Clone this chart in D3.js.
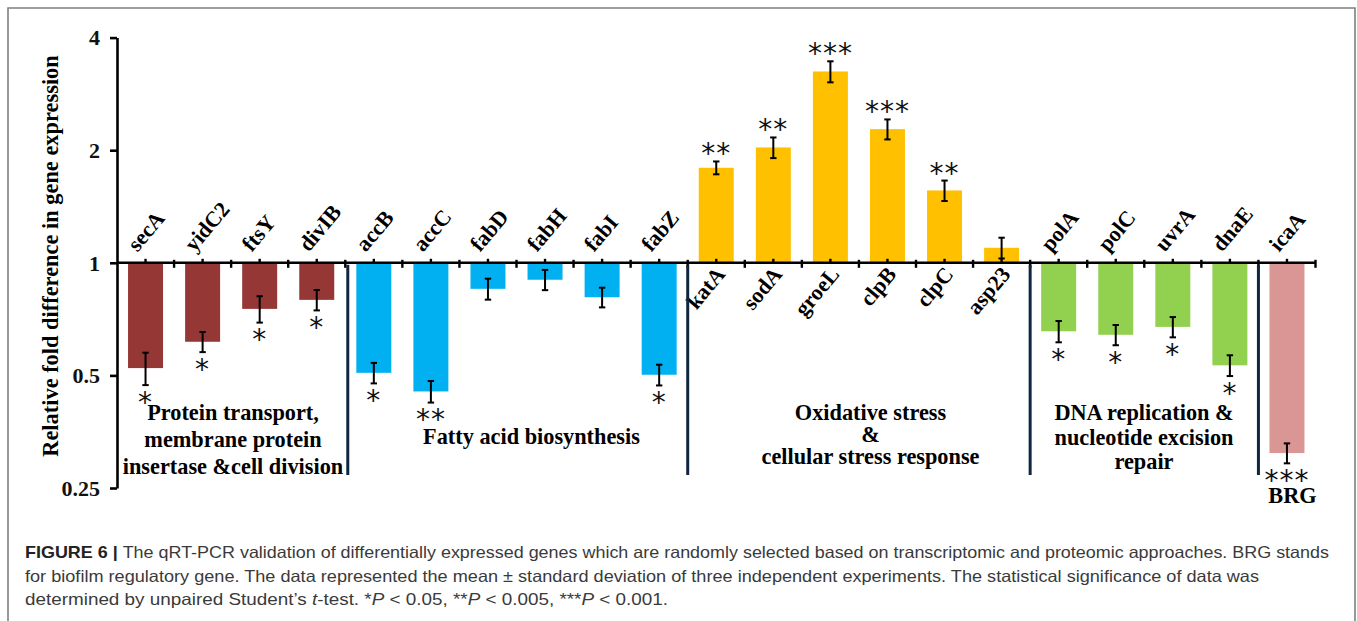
<!DOCTYPE html>
<html><head><meta charset="utf-8">
<script src="https://cdn.jsdelivr.net/npm/d3@7"></script>
<style>body{margin:0;background:#fff}svg{display:block}</style>
</head><body>
<svg id="chart" width="1357" height="621"></svg>
<script>
// ---------------- data ----------------
const genes   = ["secA","yidC2","ftsY","divIB","accB","accC","fabD","fabH","fabI","fabZ",
                 "katA","sodA","groeL","clpB","clpC","asp23","polA","polC","uvrA","dnaE","icaA"];
const foldChange = [0.523,0.615,0.753,0.796,0.508,0.453,0.852,0.901,0.809,0.502,
                    1.795,2.034,3.247,2.277,1.561,1.097,0.656,0.642,0.674,0.532,0.310];
const stdDev  = [0.052,0.038,0.061,0.050,0.032,0.030,0.055,0.056,0.049,0.032,
                 0.071,0.129,0.210,0.140,0.098,0.070,0.043,0.040,0.042,0.034,0.019];
const significance = ["*","*","*","*","*","**","","","","*",
                      "**","**","***","***","**","","*","*","*","*","***"];
const groupOf = [0,0,0,0,1,1,1,1,1,1,2,2,2,2,2,2,3,3,3,3,4];
const groupNames = [
  ["Protein transport,","membrane protein","insertase &cell division"],
  ["Fatty acid biosynthesis"],
  ["Oxidative stress","&","cellular stress response"],
  ["DNA replication &","nucleotide excision","repair"],
  ["BRG"]
];
const groupColors = ["#953735","#00B0F0","#FFC000","#92D050","#D99694"];
const yTickValues = [0.25,0.5,1,2,4];
const yTickLabels = ["0.25","0.5","1","2","4"];
const yTitle = "Relative fold difference in gene expression";
const captionLines = [
  [["b","FIGURE 6 | "],["n","The qRT-PCR validation of differentially expressed genes which are randomly selected based on transcriptomic and proteomic approaches. BRG stands"]],
  [["n","for biofilm regulatory gene. The data represented the mean \u00b1 standard deviation of three independent experiments. The statistical significance of data was"]],
  [["n","determined by unpaired Student\u2019s "],["i","t"],["n","-test. *"],["i","P"],["n"," < 0.05, **"],["i","P"],["n"," < 0.005, ***"],["i","P"],["n"," < 0.001."]]
];

// ---------------- layout ----------------
const svg = d3.select("#chart");
const serif = "'Liberation Serif','Times New Roman',serif";
const X0 = 117, X1 = 1315.5;
const x = d3.scaleBand().domain(genes).range([X0, X1]).padding(0);
const y = d3.scaleLog().base(2).domain([0.25, 4]).range([488, 37.6]);
const barW = x.bandwidth() * 0.613;
const cx = g => x(g) + x.bandwidth() / 2;
const y1 = y(1);

// frame
svg.append("path").attr("d", "M8,625 V8 H1355 V625")
  .attr("fill", "none").attr("stroke", "#7f7f7f").attr("stroke-width", 1.6);

// bars
svg.append("g").selectAll("rect").data(genes).join("rect")
  .attr("x", g => cx(g) - barW / 2)
  .attr("width", barW)
  .attr("y", (g, i) => Math.min(y(foldChange[i]), y1))
  .attr("height", (g, i) => Math.abs(y(foldChange[i]) - y1))
  .attr("fill", (g, i) => groupColors[groupOf[i]]);

// y axis
const yAxis = d3.axisLeft(y).tickValues(yTickValues)
  .tickFormat((d, i) => yTickLabels[i]).tickSizeOuter(0).tickSizeInner(7).tickPadding(10);
const ya = svg.append("g").attr("transform", `translate(${X0},0)`).call(yAxis);
ya.select(".domain").attr("stroke", "#000").attr("stroke-width", 2.6);
ya.selectAll(".tick line").attr("stroke", "#000").attr("stroke-width", 2.6);
ya.selectAll(".tick text").attr("font-family", serif).attr("font-weight", "bold")
  .attr("font-size", 22).attr("fill", "#111").attr("dy", "0.33em");

// x axis line at 1
svg.append("line").attr("x1", X0).attr("x2", X1).attr("y1", y1).attr("y2", y1)
  .attr("stroke", "#000").attr("stroke-width", 2.6);
// center ticks (up) and boundary ticks (down)
svg.append("g").selectAll("line").data(genes).join("line")
  .attr("x1", cx).attr("x2", cx).attr("y1", y1).attr("y2", y1 - 4)
  .attr("stroke", "#000").attr("stroke-width", 2.4);
svg.append("g").selectAll("line").data(genes).join("line")
  .attr("x1", g => x(g) + x.bandwidth()).attr("x2", g => x(g) + x.bandwidth())
  .attr("y1", y1 - 3).attr("y2", y1 + 5)
  .attr("stroke", "#000").attr("stroke-width", 2.4);

// error bars
const eb = svg.append("g").attr("stroke", "#000").attr("stroke-width", 2);
genes.forEach((g, i) => {
  const top = y(foldChange[i] + stdDev[i]), bot = y(foldChange[i] - stdDev[i]), c = cx(g);
  eb.append("line").attr("x1", c).attr("x2", c).attr("y1", top).attr("y2", bot);
  eb.append("line").attr("x1", c - 3.2).attr("x2", c + 3.2).attr("y1", top).attr("y2", top);
  eb.append("line").attr("x1", c - 3.2).attr("x2", c + 3.2).attr("y1", bot).attr("y2", bot);
});

// significance asterisks
const astFont = 28;
svg.append("g").selectAll("text").data(genes).join("text")
  .attr("x", cx)
  .attr("y", (g, i) => {
    const up = foldChange[i] > 1;
    const centre = up ? y(foldChange[i] + stdDev[i]) - 14 : y(foldChange[i] - stdDev[i]) + 10.5;
    return centre + astFont * 0.57;
  })
  .attr("text-anchor", "middle")
  .attr("font-family", "'DejaVu Sans',sans-serif").attr("font-size", astFont)
  .attr("letter-spacing", 1).attr("fill", "#111")
  .text((g, i) => significance[i]);

// gene labels
svg.append("g").selectAll("text").data(genes).join("text")
  .attr("transform", (g, i) => foldChange[i] > 1
      ? `translate(${cx(g) + 10},${y1 + 12}) rotate(-50)`
      : `translate(${cx(g) - 8},${y1 - 10}) rotate(-50)`)
  .attr("text-anchor", (g, i) => foldChange[i] > 1 ? "end" : "start")
  .attr("font-family", serif).attr("font-weight", "bold").attr("font-size", 22)
  .attr("fill", "#000")
  .text(g => g);

// group separators
const sepAfter = [3, 9, 15, 19];
svg.append("g").selectAll("line").data(sepAfter).join("line")
  .attr("x1", i => x(genes[i]) + x.bandwidth() + (i === 3 ? 2.5 : 0))
  .attr("x2", i => x(genes[i]) + x.bandwidth() + (i === 3 ? 2.5 : 0))
  .attr("y1", y1 + 2).attr("y2", 475)
  .attr("stroke", "#102640").attr("stroke-width", 3);

// group labels
const groupLayout = [
  {x: 233, ys: [413.3, 440, 466.7]},
  {x: 531.5, ys: [437]},
  {x: 870.5, ys: [413.3, 435, 456.7]},
  {x: 1144, ys: [413.3, 438, 461.7]},
  {x: 1292.5, ys: [495.5]}
];
groupNames.forEach((lines, gi) => {
  lines.forEach((t, li) => {
    svg.append("text").attr("x", groupLayout[gi].x).attr("y", groupLayout[gi].ys[li] + 7)
      .attr("text-anchor", "middle").attr("font-family", serif).attr("font-weight", "bold")
      .attr("font-size", 22.3).attr("fill", "#000").text(t);
  });
});

// y title
svg.append("text").attr("transform", "translate(58,256) rotate(-90)")
  .attr("text-anchor", "middle").attr("font-family", serif).attr("font-weight", "bold")
  .attr("font-size", 22.4).attr("fill", "#000").text(yTitle);

// caption
const capLen = [1304, 1234, 643];
const capY = [557.5, 581.5, 605];
captionLines.forEach((parts, li) => {
  const t = svg.append("text").attr("x", 25).attr("y", capY[li])
    .attr("font-family", "'Liberation Sans',Arial,sans-serif").attr("font-size", 16.5)
    .attr("fill", "#3a3a3a")
    .attr("textLength", capLen[li]).attr("lengthAdjust", "spacingAndGlyphs");
  parts.forEach(([k, s]) => {
    const ts = t.append("tspan").text(s);
    if (k === "b") ts.attr("font-weight", "bold").attr("fill", "#222");
    if (k === "i") ts.attr("font-style", "italic");
  });
});
</script>
</body></html>
